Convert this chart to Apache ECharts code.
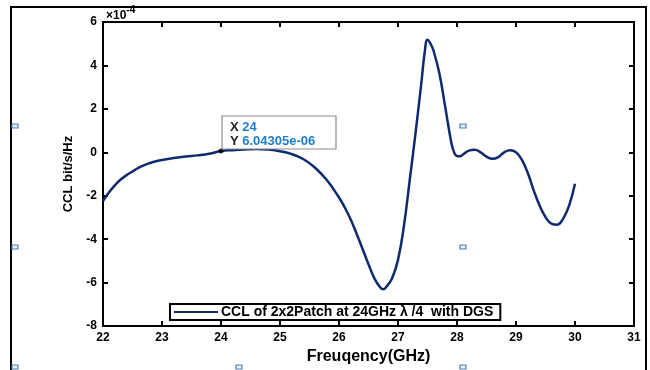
<!DOCTYPE html>
<html><head><meta charset="utf-8">
<script src="https://cdn.jsdelivr.net/npm/echarts@6/dist/echarts.min.js"></script>
<style>html,body{margin:0;padding:0;background:#fff}#c{width:650px;height:370px}</style>
</head><body><div id="c"></div>
<script>
// Frequency (GHz)
var freq = [22.0,22.1,22.2,22.3,22.4,22.5,22.6,22.7,22.8,22.9,23.0,23.2,23.4,23.6,23.8,24.0,24.2,24.4,24.6,24.8,25.0,25.2,25.4,25.6,25.8,26.0,26.1,26.2,26.3,26.4,26.5,26.6,26.7,26.75,26.8,26.9,27.0,27.1,27.2,27.3,27.4,27.45,27.5,27.55,27.6,27.7,27.8,27.9,27.95,28.0,28.05,28.1,28.2,28.3,28.4,28.5,28.6,28.7,28.8,28.9,29.0,29.1,29.2,29.3,29.4,29.5,29.6,29.7,29.8,29.9,30.0];
// CCL in units of 1e-4 bit/s/Hz
var cclE4 = [-2.24,-1.85,-1.52,-1.25,-1.05,-0.88,-0.72,-0.59,-0.49,-0.41,-0.35,-0.26,-0.19,-0.14,-0.07,0.06,0.10,0.13,0.15,0.13,0.05,-0.08,-0.32,-0.72,-1.3,-2.08,-2.55,-3.1,-3.76,-4.45,-5.15,-5.8,-6.22,-6.3,-6.2,-5.8,-4.95,-3.4,-1.25,0.95,3.3,4.55,5.18,5.0,4.7,3.65,2.1,0.5,0.0,-0.17,-0.18,-0.1,0.08,0.12,0.0,-0.2,-0.3,-0.22,0.0,0.1,0.0,-0.35,-0.95,-1.75,-2.45,-2.98,-3.28,-3.33,-3.05,-2.45,-1.45];
var xTicks = [22,23,24,25,26,27,28,29,30,31];
var yTicks = [-8,-6,-4,-2,0,2,4,6];
var tipX = 24, tipY = 0.0604305; // 6.04305e-06 in units of 1e-4
var seriesName = 'CCL of 2x2Patch at 24GHz \u03bb /4  with DGS';

var lineData = freq.map(function(f,i){return [f, cclE4[i]];});
var chart = echarts.init(document.getElementById('c'), null, {renderer:'canvas'});
var FF = 'Liberation Sans, Arial, sans-serif';
var axisFont = {fontFamily:FF, fontWeight:'bold', fontSize:12, color:'#000'};
var axLine = {show:true, onZero:false, lineStyle:{color:'#000', width:2}};
var tick = {inside:true, length:5, lineStyle:{color:'#000', width:2}};
function handle(x,y){return {type:'rect', shape:{x:x-3,y:y-2,width:6,height:4}, style:{fill:'#e8f0f8', stroke:'#4f7fae', lineWidth:1.2}, z:100};}
chart.setOption({
  animation:false,
  grid:{left:103, right:16, top:22, bottom:41, containLabel:false},
  xAxis:[{type:'value', min:xTicks[0], max:xTicks[xTicks.length-1], interval:1, position:'bottom',
    axisLine:axLine, axisTick:tick,
    axisLabel:Object.assign({margin:6}, axisFont), splitLine:{show:false},
    name:'Freuqency(GHz)', nameLocation:'middle', nameGap:18,
    nameTextStyle:{fontFamily:FF, fontWeight:'bold', fontSize:16, color:'#000'}},
   {type:'value', min:xTicks[0], max:xTicks[xTicks.length-1], interval:1, position:'top',
    axisLine:axLine, axisTick:tick, axisLabel:{show:false}, splitLine:{show:false}}],
  yAxis:[{type:'value', min:yTicks[0], max:yTicks[yTicks.length-1], interval:2, position:'left',
    axisLine:axLine, axisTick:tick,
    axisLabel:Object.assign({margin:6}, axisFont), splitLine:{show:false},
    name:'CCL bit/s/Hz', nameLocation:'middle', nameGap:28, nameRotate:90,
    nameTextStyle:{fontFamily:FF, fontWeight:'bold', fontSize:13, color:'#000'}},
   {type:'value', min:yTicks[0], max:yTicks[yTicks.length-1], interval:2, position:'right',
    axisLine:axLine, axisTick:tick, axisLabel:{show:false}, splitLine:{show:false}}],
  legend:{data:[{name:seriesName, icon:'rect'}], left:170, top:304, orient:'horizontal',
    itemWidth:44, itemHeight:2, itemGap:0, padding:[1,7,1,4],
    borderColor:'#000', borderWidth:2, backgroundColor:'#fff',
    textStyle:{fontFamily:FF, fontWeight:'bold', fontSize:14, color:'#000', padding:[0,0,0,-2]}},
  series:[
    {name:seriesName, type:'line', data:lineData, smooth:0.45, symbol:'none', showSymbol:false,
     lineStyle:{color:'#0f2b6e', width:2.5}, itemStyle:{color:'#0f2b6e'}, z:5},
    {name:'tip', type:'scatter', data:[[tipX, tipY]], symbolSize:5, itemStyle:{color:'#000'}, z:20}
  ],
  graphic:[
    {type:'rect', shape:{x:11,y:7,width:635,height:380}, style:{fill:'none', stroke:'#000', lineWidth:2}, z:90, silent:true},
    {type:'text', left:106, top:5, z:100, style:{text:'{a|\u00d710}{b|-4}', rich:{
       a:{fontFamily:FF, fontSize:12, fontWeight:'bold', fill:'#000', padding:[5,0,0,0]},
       b:{fontFamily:FF, fontSize:10, fontWeight:'bold', fill:'#000', verticalAlign:'top'}}}},
    {type:'rect', shape:{x:222,y:116,width:114,height:33}, style:{fill:'#fff', stroke:'#8c8c8c', lineWidth:1.2}, z:50},
    {type:'text', x:230, y:120, z:51, style:{text:'{k|X }{v|' + tipX + '}\n{k|Y }{v|6.04305e-06}', lineHeight:14, rich:{
       k:{fontFamily:FF, fontSize:13, fontWeight:'bold', fill:'#222'},
       v:{fontFamily:FF, fontSize:13, fontWeight:'bold', fill:'#1b7fd1'}}}},
    handle(15,126), handle(15,247), handle(15,367), handle(239,367),
    handle(463,126), handle(463,247), handle(463,367)
  ]
});
</script></body></html>
